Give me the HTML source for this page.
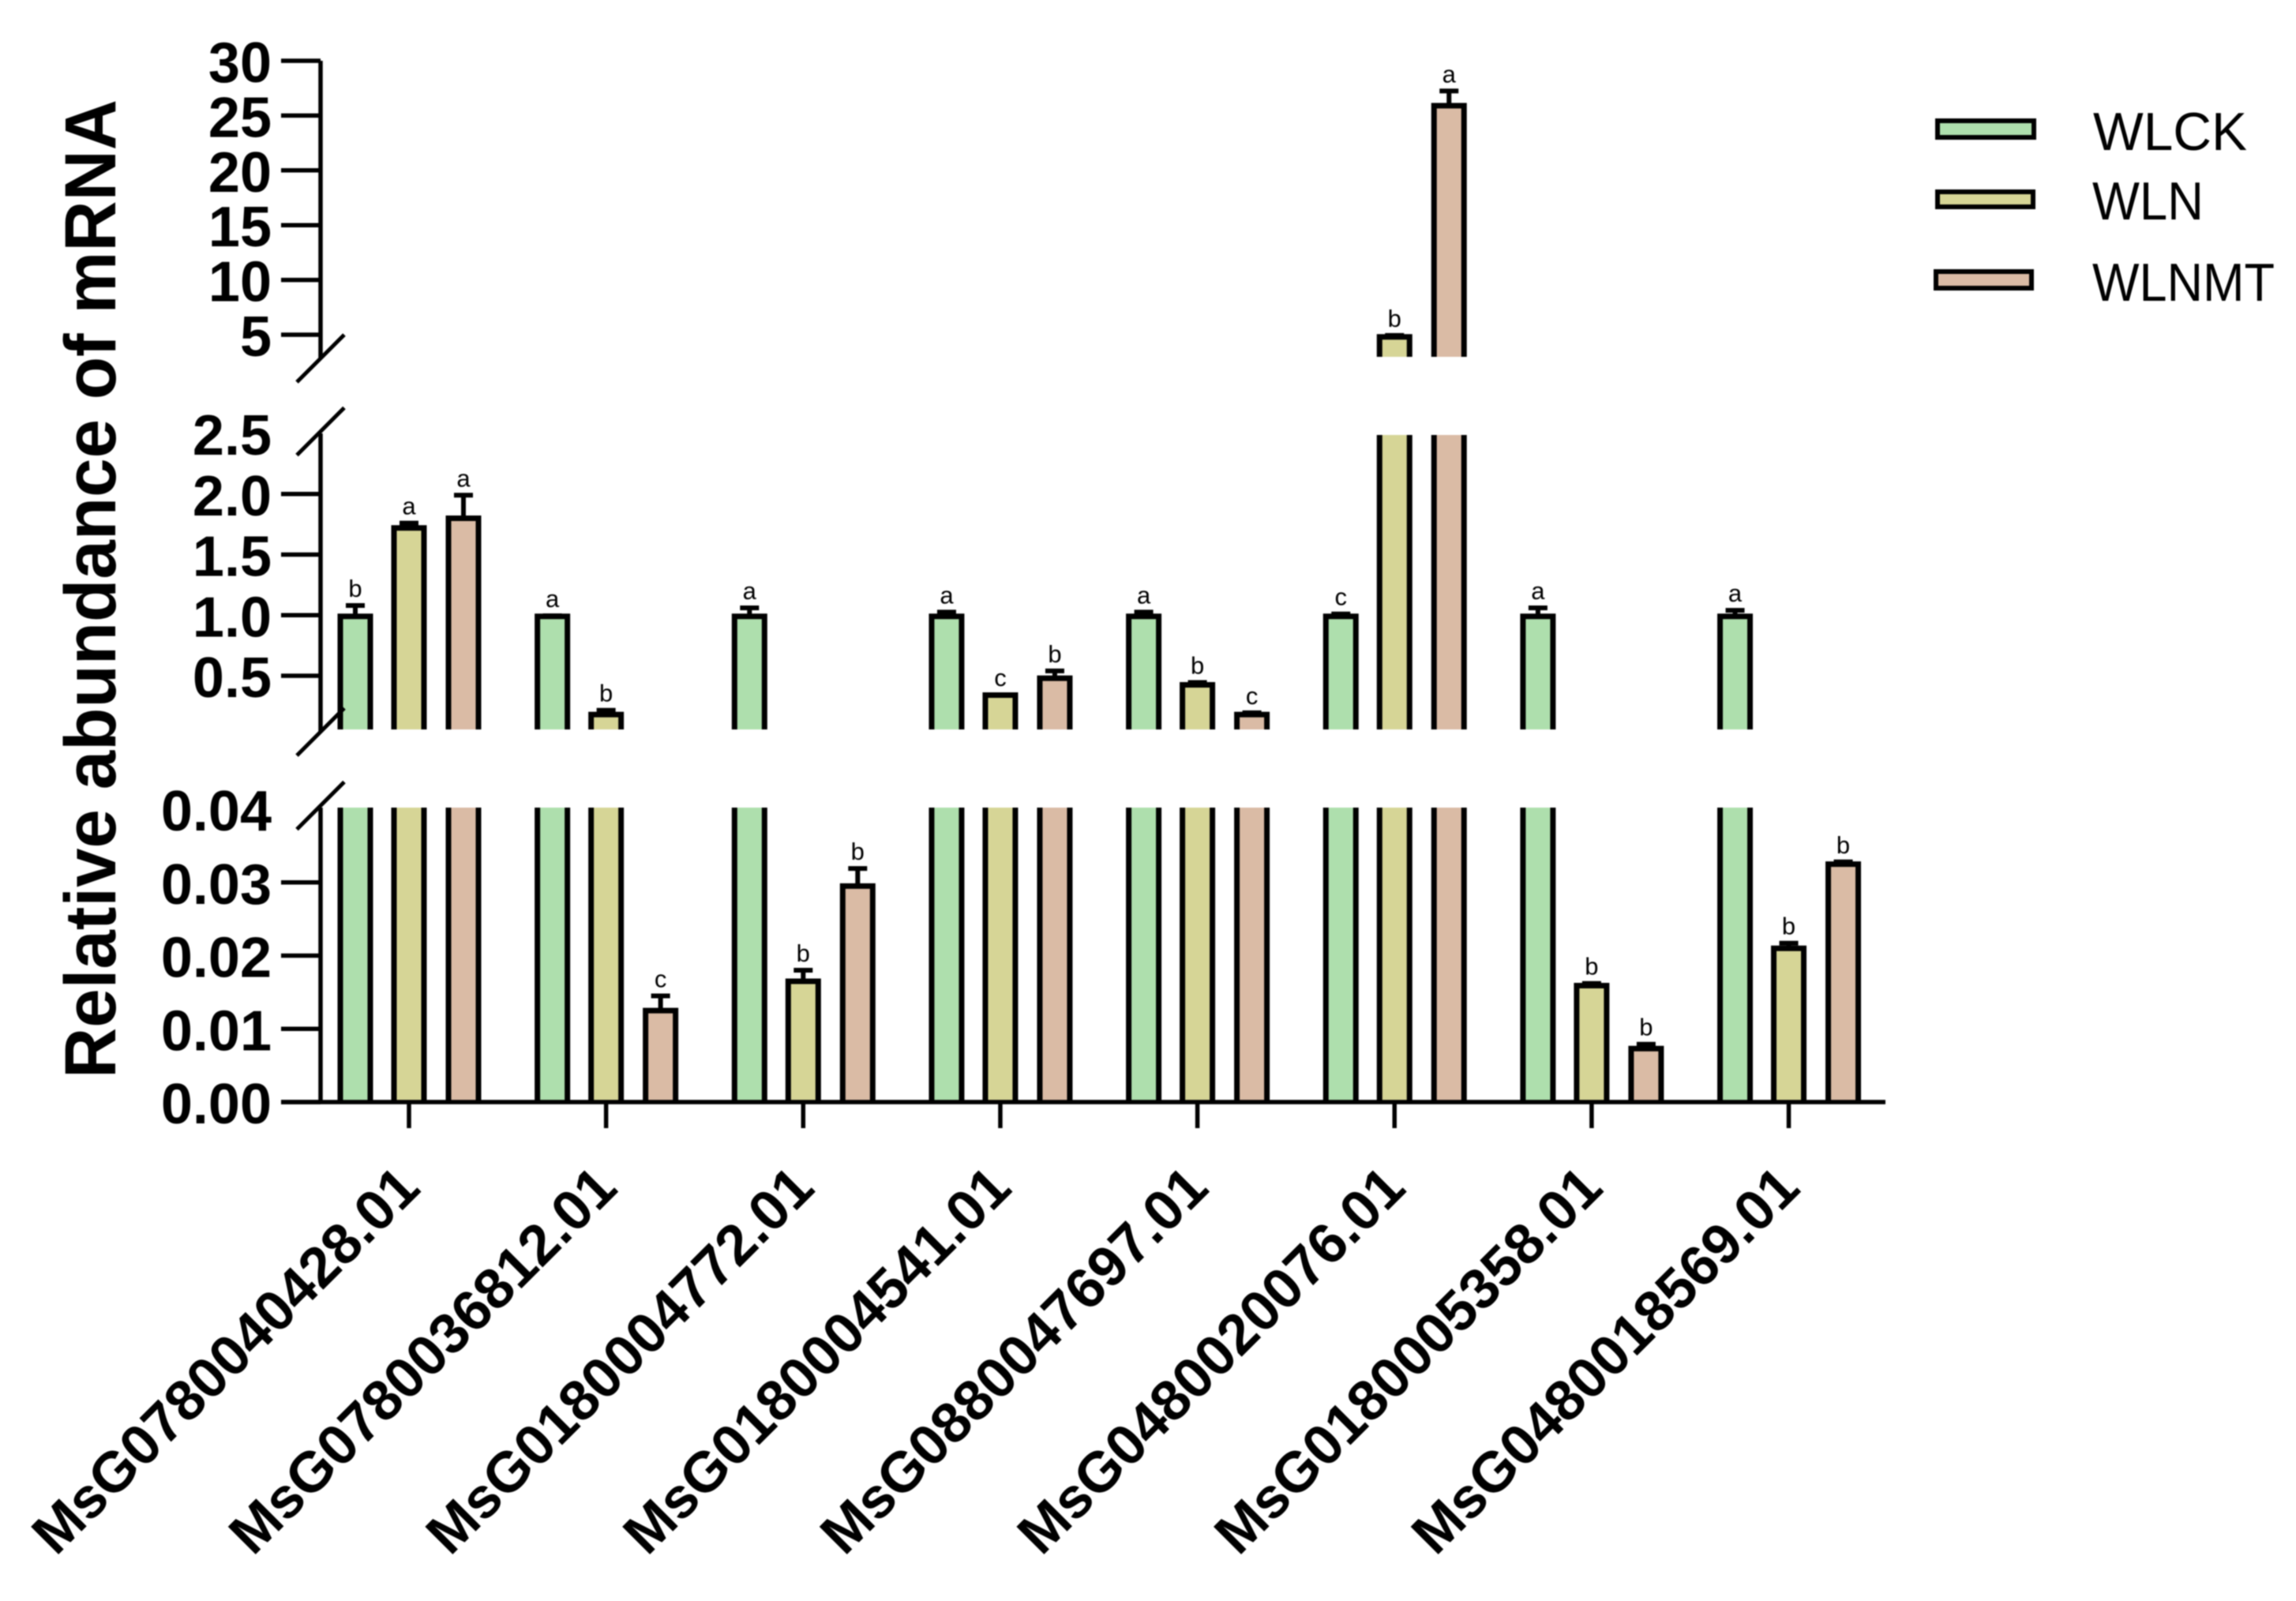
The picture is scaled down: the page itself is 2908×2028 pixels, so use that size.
<!DOCTYPE html>
<html lang="en">
<head>
<meta charset="utf-8">
<title>Relative abundance of mRNA</title>
<style>
html,body{margin:0;padding:0;background:#fff;}
svg{display:block;filter:blur(0.7px);}
text{font-family:"Liberation Sans",Arial,sans-serif;fill:#000;}
</style>
</head>
<body>
<svg id="chart" xmlns="http://www.w3.org/2000/svg" width="2908" height="2028" viewBox="0 0 2908 2028">
  <rect width="2908" height="2028" fill="#ffffff"/>
  <g id="bars"></g>
  <g id="axes"></g>
  <text transform="translate(146,1366) rotate(-90)" font-size="92" font-weight="700" textLength="1240" lengthAdjust="spacingAndGlyphs">Relative abundance of mRNA</text>
  <g>
    <g>
      <rect x="2454" y="153" width="122" height="21" fill="#AEDFAD" stroke="#000" stroke-width="6"/>
      <text x="2651" y="190" font-size="68" textLength="195" lengthAdjust="spacingAndGlyphs">WLCK</text>
    </g>
    <g>
      <rect x="2454" y="243" width="121" height="19" fill="#D6D596" stroke="#000" stroke-width="6"/>
      <text x="2650" y="278" font-size="68" textLength="141" lengthAdjust="spacingAndGlyphs">WLN</text>
    </g>
    <g>
      <rect x="2452" y="344" width="121" height="21" fill="#DABBA5" stroke="#000" stroke-width="6"/>
      <text x="2650" y="381" font-size="68" textLength="231" lengthAdjust="spacingAndGlyphs">WLNMT</text>
    </g>
  </g>
</svg>
<script>
const categories = ["MsG0780040428.01","MsG0780036812.01","MsG0180004772.01","MsG0180004541.01","MsG0880047697.01","MsG0480020076.01","MsG0180005358.01","MsG0480018569.01"];
const wlckValues = [0.99,0.99,0.99,0.99,0.99,0.99,0.99,0.99];
const wlckErrors = [0.09,0.005,0.07,0.035,0.035,0.02,0.07,0.05];
const wlckLetters = ["b","a","a","a","a","c","a","a"];
const wlnValues = [1.72,0.18,0.0165,0.34,0.425,4.8,0.0159,0.021];
const wlnErrors = [0.04,0.035,0.0015,0.003,0.02,0.14,0.0003,0.0007];
const wlnLetters = ["a","b","b","c","b","b","b","b"];
const wlnmtValues = [1.80,0.0125,0.0295,0.48,0.18,25.9,0.0073,0.0325];
const wlnmtErrors = [0.19,0.002,0.0024,0.06,0.015,1.34,0.0006,0.0003];
const wlnmtLetters = ["a","c","b","b","c","a","b","b"];
const lowerTickLabels = ["0.00","0.01","0.02","0.03","0.04"];
const middleTickLabels = ["0.5","1.0","1.5","2.0","2.5"];
const upperTickLabels = ["5","10","15","20","25","30"];

const NS = "http://www.w3.org/2000/svg";
const barsLayer = document.getElementById("bars");
const axesLayer = document.getElementById("axes");

function make(tag, attrs, parent){
  const n = document.createElementNS(NS, tag);
  for (const k in attrs) n.setAttribute(k, attrs[k]);
  parent.appendChild(n);
  return n;
}

/* three linear axis segments of the broken y axis */
const axisX = 406;
const segments = [
  {d0:0,    d1:0.04, p0:1396, p1:1025, base:1396, cut:1023, axisTop:1023, low:0,     tickTop:false},
  {d0:0.5,  d1:2.5,  p0:856,  p1:549,  base:924,  cut:551,  axisTop:549,  low:0.055, tickTop:false},
  {d0:5,    d1:30,   p0:424,  p1:77,   base:452,  cut:77,   axisTop:77,   low:3,     tickTop:true}
];
function segScale(s, v){ return s.p0 + (v - s.d0) * (s.p1 - s.p0) / (s.d1 - s.d0); }
function segMax(s){ return s.d0 + (s.cut - s.p0) * (s.d1 - s.d0) / (s.p1 - s.p0); }
function y(v){
  for (let i = 0; i < segments.length; i++){
    if (v <= segMax(segments[i])) return segScale(segments[i], v);
  }
  return segScale(segments[2], v);
}
function xCenter(i){ return 518 + i * 249.65; }

const series = [
  {key:"wlck",  fill:"#AEDFAD", offset:-68, values:wlckValues,  errors:wlckErrors,  letters:wlckLetters},
  {key:"wln",   fill:"#D6D596", offset:0,   values:wlnValues,   errors:wlnErrors,   letters:wlnLetters},
  {key:"wlnmt", fill:"#DABBA5", offset:69,  values:wlnmtValues, errors:wlnmtErrors, letters:wlnmtLetters}
];
const halfBar = 19;

series.forEach(function(ser){
  ser.values.forEach(function(v, i){
    const cx = xCenter(i) + ser.offset;
    const g = make("g", {}, barsLayer);
    
    
    segments.forEach(function(s){
      if (v <= s.low) return;
      const m = segMax(s);
      const closed = v <= m;
      const top = closed ? segScale(s, v) : s.cut;
      make("rect", {x:cx - halfBar, y:top, width:halfBar * 2, height:Math.max(0, s.base - top), fill:ser.fill}, g);
      const d = closed
        ? "M" + (cx - halfBar) + " " + s.base + "V" + top + "H" + (cx + halfBar) + "V" + s.base
        : "M" + (cx - halfBar) + " " + s.base + "V" + top + "M" + (cx + halfBar) + " " + s.base + "V" + top;
      make("path", {d:d, fill:"none", stroke:"#000", "stroke-width":7}, g);
    });
    const yv = y(v);
    const yc = y(v + ser.errors[i]);
    const eb = make("path", {d:"M" + cx + " " + yv + "V" + yc + "M" + (cx - 12) + " " + yc + "H" + (cx + 12), fill:"none", stroke:"#000", "stroke-width":6}, barsLayer);
    
    
    const lab = make("text", {x:cx, y:yc - 11, "font-size":31, "text-anchor":"middle"}, barsLayer);
    
    
    lab.textContent = ser.letters[i];
  });
});

/* y axis segments, break marks */
segments.forEach(function(s, si){
  const line = make("line", {x1:axisX, x2:axisX, y1:s.base === 924 ? 927 : (s.base === 452 ? 454 : s.base), y2:s.axisTop, stroke:"#000", "stroke-width":5.5}, axesLayer);
  
  
});
[454, 546.5, 927, 1020.5].forEach(function(cy, i){
  const sl = make("line", {x1:axisX - 30, y1:cy + 30, x2:axisX + 30, y2:cy - 30, stroke:"#000", "stroke-width":5}, axesLayer);
  
  
});

/* y ticks + labels */
[lowerTickLabels, middleTickLabels, upperTickLabels].forEach(function(labels, si){
  const s = segments[si];
  labels.forEach(function(txt, i){
    const v = parseFloat(txt);
    const py = segScale(s, v);
    const isTop = i === labels.length - 1;
    if (!isTop || s.tickTop){
      const t = make("line", {x1:356, x2:axisX, y1:py, y2:py, stroke:"#000", "stroke-width":5.5}, axesLayer);
      
      
    }
    const l = make("text", {x:344, y:py + 27, "font-size":72, "font-weight":700, "text-anchor":"end"}, axesLayer);
    
    
    l.textContent = txt;
  });
});

/* x axis */
const xLine = make("line", {x1:356, x2:2388, y1:1396, y2:1396, stroke:"#000", "stroke-width":5.5}, axesLayer);


categories.forEach(function(c, i){
  const cx = xCenter(i);
  const t = make("line", {x1:cx, x2:cx, y1:1396, y2:1429, stroke:"#000", "stroke-width":5.5}, axesLayer);
  
  
  const l = make("text", {transform:"translate(" + (cx + 17) + ",1508) rotate(-45)", "font-size":72, "font-weight":700, "text-anchor":"end"}, axesLayer);
  
  
  l.textContent = c;
});
</script>
</body>
</html>
